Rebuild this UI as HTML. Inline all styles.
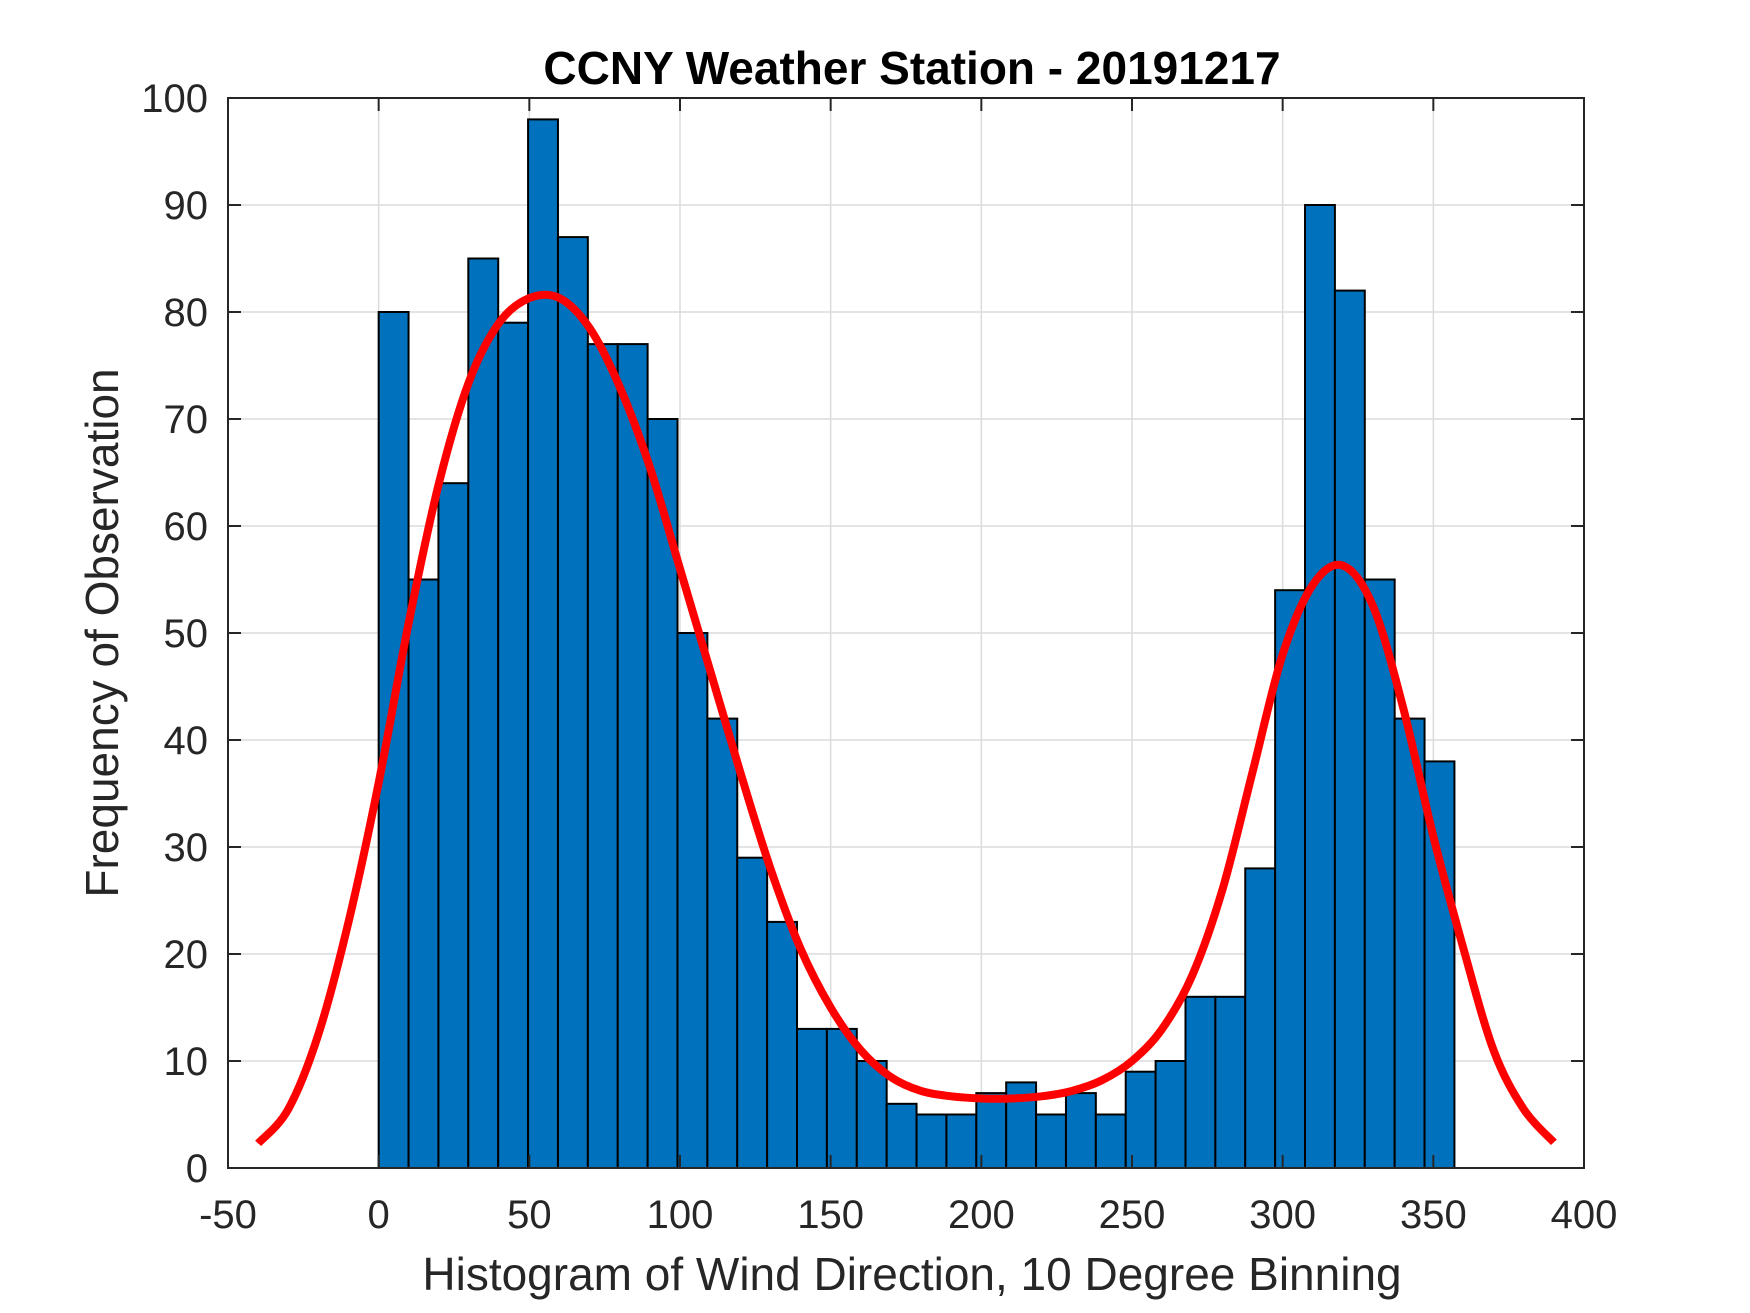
<!DOCTYPE html>
<html><head><meta charset="utf-8"><style>
html,body{margin:0;padding:0;background:#fff;}
svg{display:block;font-family:"Liberation Sans",Arial,sans-serif;}
</style></head><body>
<svg id="chart" width="1750" height="1313" viewBox="0 0 1750 1313">
<rect width="1750" height="1313" fill="#fff"/>
<g id="grid"></g>
<g id="bars"></g>
<g id="curve"></g>
<g id="axes"></g>
<text x="912" y="84" text-anchor="middle" font-size="46" font-weight="bold" fill="#000">CCNY Weather Station - 20191217</text>
<text x="912" y="1290" text-anchor="middle" font-size="46" fill="#262626">Histogram of Wind Direction, 10 Degree Binning</text>
<text transform="translate(118,633) rotate(-90)" text-anchor="middle" font-size="46" fill="#262626">Frequency of Observation</text>
</svg>
<script>
const binCounts = [80,55,64,85,79,98,87,77,77,70,50,42,29,23,13,13,10,6,5,5,7,8,5,7,5,9,10,16,16,28,54,90,82,55,42,38];
const binStart = 0;
const binEnd = 357;
const curveX = [-40,-30,-20,-10,0,10,20,30,40,50,60,70,80,90,100,110,120,130,140,150,160,170,180,190,200,210,220,230,240,250,260,270,280,290,300,310,320,330,340,350,360,370,380,390];
const curveY = [2.3,5.5,12.5,23,36,51,64,73.5,79,81.3,81.3,78.5,73,65.5,56,46.5,37,28,20.5,15,11,8.5,7.2,6.7,6.5,6.5,6.7,7.2,8.2,10,13,18,26,37,48,54.5,56.3,52.5,43,31,20.5,11,5.5,2.4];
const xTicks = [-50,0,50,100,150,200,250,300,350,400];
const yTicks = [0,10,20,30,40,50,60,70,80,90,100];

const L=228,R=1584,T=98,B=1168;
const xMin=-50,xMax=400,yMin=0,yMax=100;
const sx=v=>L+(v-xMin)/(xMax-xMin)*(R-L);
const sy=v=>B-(v-yMin)/(yMax-yMin)*(B-T);
const NS='http://www.w3.org/2000/svg';
function mk(tag,attrs,parent){const e=document.createElementNS(NS,tag);for(const k in attrs)e.setAttribute(k,attrs[k]);parent.appendChild(e);return e;}

const grid=document.getElementById('grid');
xTicks.forEach(t=>{const g=mk('line',{x1:sx(t),x2:sx(t),y1:T,y2:B,stroke:'#dcdcdc','stroke-width':1.5},grid);

});
yTicks.forEach(t=>{const g=mk('line',{x1:L,x2:R,y1:sy(t),y2:sy(t),stroke:'#dcdcdc','stroke-width':1.5},grid);

});

const bars=document.getElementById('bars');
const w=(binEnd-binStart)/binCounts.length;
binCounts.forEach((c,i)=>{const x0=sx(binStart+i*w),x1=sx(binStart+(i+1)*w);
const r=mk('rect',{x:x0,y:sy(c),width:x1-x0,height:sy(0)-sy(c),fill:'#0072bd',stroke:'#000','stroke-width':2},bars);

});

const cg=document.getElementById('curve');
const pts=curveX.map((x,i)=>[sx(x),sy(curveY[i])]);
let d='M'+pts[0][0]+','+pts[0][1];
for(let i=0;i<pts.length-1;i++){
 const p0=pts[Math.max(0,i-1)],p1=pts[i],p2=pts[i+1],p3=pts[Math.min(pts.length-1,i+2)];
 const c1x=p1[0]+(p2[0]-p0[0])/6,c1y=p1[1]+(p2[1]-p0[1])/6;
 const c2x=p2[0]-(p3[0]-p1[0])/6,c2y=p2[1]-(p3[1]-p1[1])/6;
 d+=' C'+c1x+','+c1y+' '+c2x+','+c2y+' '+p2[0]+','+p2[1];
}
const p=mk('path',{d:d,fill:'none',stroke:'#ff0000','stroke-width':8,'stroke-linejoin':'round'},cg);



const ax=document.getElementById('axes');
const box=mk('rect',{x:L,y:T,width:R-L,height:B-T,fill:'none',stroke:'#262626','stroke-width':2},ax);


xTicks.forEach(t=>{
 mk('line',{x1:sx(t),x2:sx(t),y1:B,y2:B-13,stroke:'#262626','stroke-width':2},ax);
 mk('line',{x1:sx(t),x2:sx(t),y1:T,y2:T+13,stroke:'#262626','stroke-width':2},ax);
 const tx=mk('text',{x:sx(t),y:1228,'text-anchor':'middle','font-size':40,fill:'#262626'},ax);
 tx.textContent=t;
 
 
});
yTicks.forEach(t=>{
 mk('line',{x1:L,x2:L+13,y1:sy(t),y2:sy(t),stroke:'#262626','stroke-width':2},ax);
 mk('line',{x1:R,x2:R-13,y1:sy(t),y2:sy(t),stroke:'#262626','stroke-width':2},ax);
 const tx=mk('text',{x:208,y:sy(t)+14,'text-anchor':'end','font-size':40,fill:'#262626'},ax);
 tx.textContent=t;
 
 
});
</script>
</body></html>
